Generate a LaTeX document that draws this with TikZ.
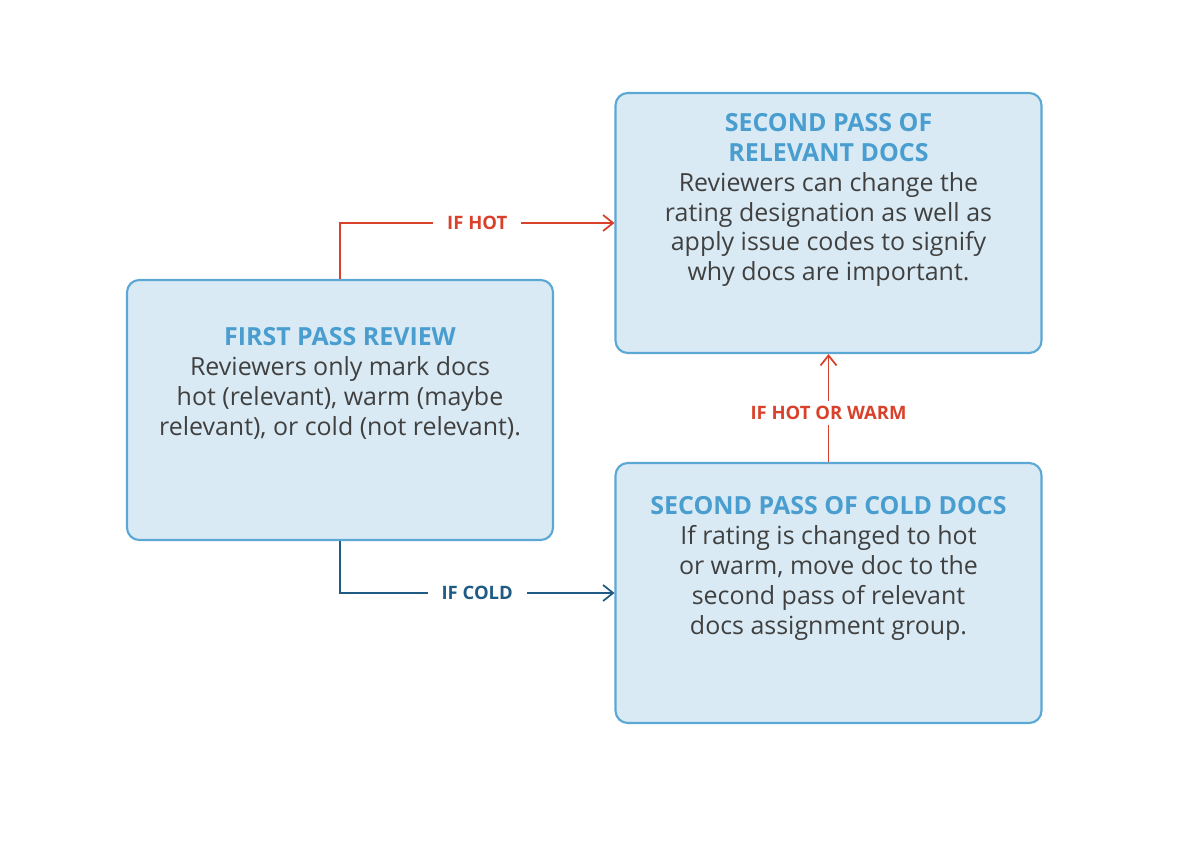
\documentclass[tikz,border=0pt]{standalone}
\usepackage{fontspec}
\setmainfont{Open Sans}
\usepackage{tikz}
\usetikzlibrary{positioning,arrows.meta}

\definecolor{boxfill}{HTML}{D9EAF4}
\definecolor{boxline}{HTML}{5BA8D5}
\definecolor{titleblue}{HTML}{4A9ECF}
\definecolor{bodygray}{HTML}{404040}
\definecolor{hotred}{HTML}{D9412B}
\definecolor{coldblue}{HTML}{1F5B82}

\newcommand{\boxtitle}[1]{{\bfseries\color{titleblue}#1}}

\begin{document}
\begin{tikzpicture}[
  box/.style={rectangle, draw=boxline, fill=boxfill, line width=1.2pt, rounded corners=7pt, minimum width=8.52cm, minimum height=5.2cm},
  boxtext/.style={anchor=north, align=center, inner sep=0pt, text=bodygray, font=\fontsize{14.2}{17}\selectfont},
  flow/.style={-{Straight Barb[length=2mm, width=3.2mm]}, line width=1pt},
  lbl/.style={fill=white, inner xsep=8pt, inner ysep=3pt, font=\fontsize{10.5}{12}\selectfont\bfseries}
]
  \useasboundingbox (0,0) rectangle (24.08,16.8);

  \node[box] (firstpass) at (6.8, 8.6) {};
  \node[box] (relevant) at (16.57, 12.34) {};
  \node[box] (cold) at (16.57, 4.94) {};

  \node[boxtext, below=0.97cm of firstpass.north] (firsttext)
    {\boxtitle{FIRST PASS REVIEW}\\Reviewers only mark docs\\hot (relevant), warm (maybe\\relevant), or cold (not relevant).};
  \node[boxtext, below=0.42cm of relevant.north] (relevanttext)
    {\boxtitle{SECOND PASS OF}\\\boxtitle{RELEVANT DOCS}\\Reviewers can change the\\rating designation as well as\\apply issue codes to signify\\why docs are important.};
  \node[boxtext, below=0.69cm of cold.north] (coldtext)
    {\boxtitle{SECOND PASS OF COLD DOCS}\\If rating is changed to hot\\or warm, move doc to the\\second pass of relevant\\docs assignment group.};

  \draw[flow, hotred] (firstpass.north) |- node[lbl, pos=0.75, text=hotred] {IF HOT} (relevant.west);
  \draw[flow, coldblue] (firstpass.south) |- node[lbl, pos=0.75, text=coldblue] {IF COLD} (cold.west);
  \draw[flow, hotred] (cold.north) -- node[lbl, pos=0.45, text=hotred] {IF HOT OR WARM} (relevant.south);
\end{tikzpicture}
\end{document}
